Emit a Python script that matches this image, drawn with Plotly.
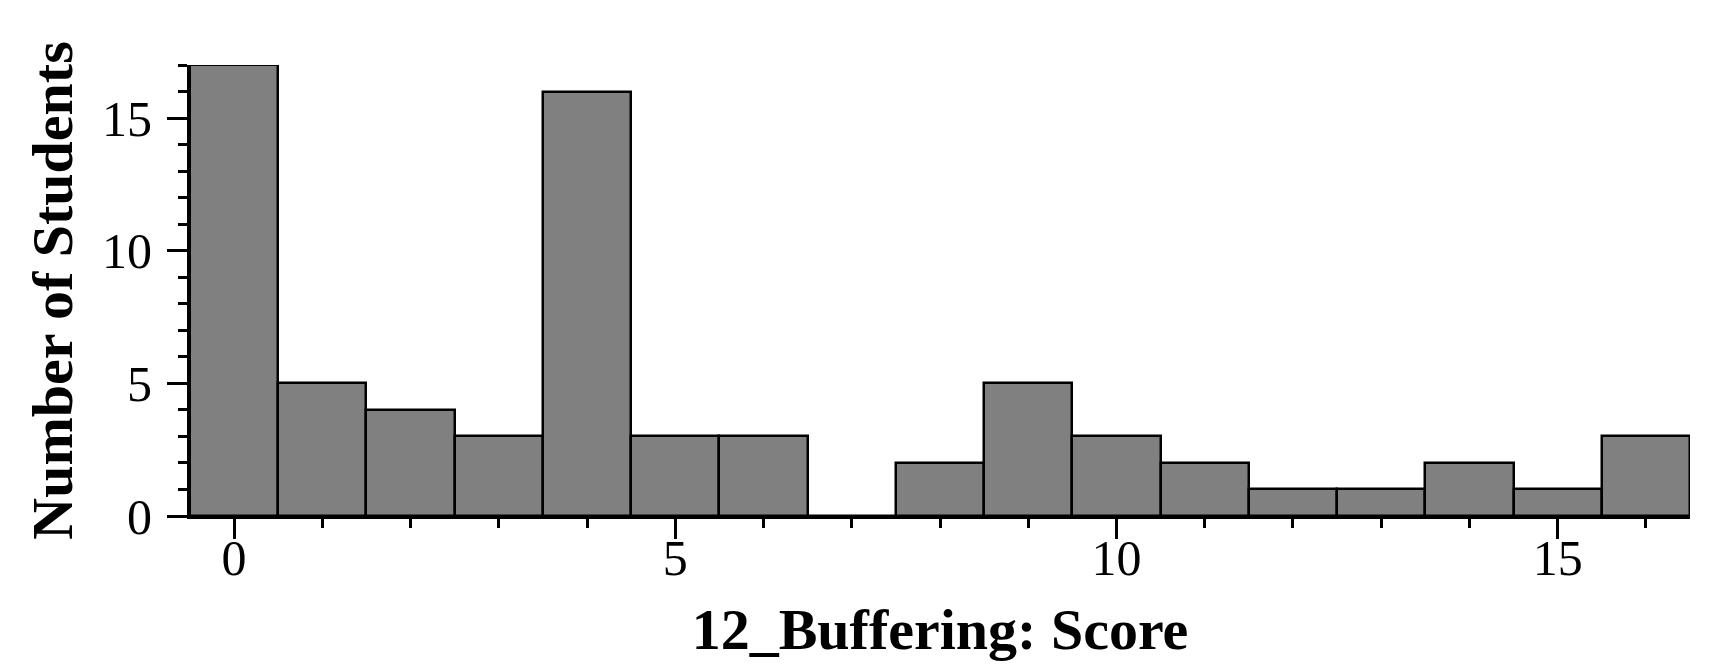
import plotly.graph_objects as go

scores = list(range(0, 17))
counts = [17, 5, 4, 3, 16, 3, 3, 0, 2, 5, 3, 2, 1, 1, 2, 1, 3]
x_ticks = [0, 5, 10, 15]
y_ticks = [0, 5, 10, 15]
x_title = "12_Buffering: Score"
y_title = "Number of Students"

FONT = "Liberation Serif"

fig = go.Figure()
fig.add_trace(go.Bar(
    x=scores, y=counts, width=1,
    marker=dict(color="#808080", line=dict(color="black", width=2.5)),
))

fig.update_layout(
    width=1720, height=670,
    margin=dict(l=182, r=38, t=57, b=162, autoexpand=False),
    plot_bgcolor="white", paper_bgcolor="white",
    showlegend=False, bargap=0,
    font=dict(family=FONT, size=50, color="black"),
)
fig.update_xaxes(
    range=[-0.5, 16.5], showgrid=False, zeroline=False,
    showline=True, linecolor="black", linewidth=3,
    tickmode="array", tickvals=x_ticks, ticks="outside",
    ticklen=20, tickwidth=3, tickcolor="black",
    tickfont=dict(family=FONT, size=50),
    ticklabelstandoff=-24,
    minor=dict(dtick=1, ticks="outside", ticklen=9, tickwidth=3, tickcolor="black", showgrid=False),
    title=dict(text=x_title, font=dict(family=FONT, size=58, weight="bold"), standoff=24),
    automargin=False,
)
fig.update_yaxes(
    range=[0, 17], showgrid=False, zeroline=False,
    showline=True, linecolor="black", linewidth=3,
    tickmode="array", tickvals=y_ticks, ticks="outside",
    ticklen=20, tickwidth=3, tickcolor="black",
    tickfont=dict(family=FONT, size=50),
    ticklabelstandoff=5,
    minor=dict(dtick=1, ticks="outside", ticklen=9, tickwidth=3, tickcolor="black", showgrid=False),
    title=dict(text=y_title, font=dict(family=FONT, size=58, weight="bold"), standoff=11),
    automargin=False,
)

fig.write_html("out.html")
